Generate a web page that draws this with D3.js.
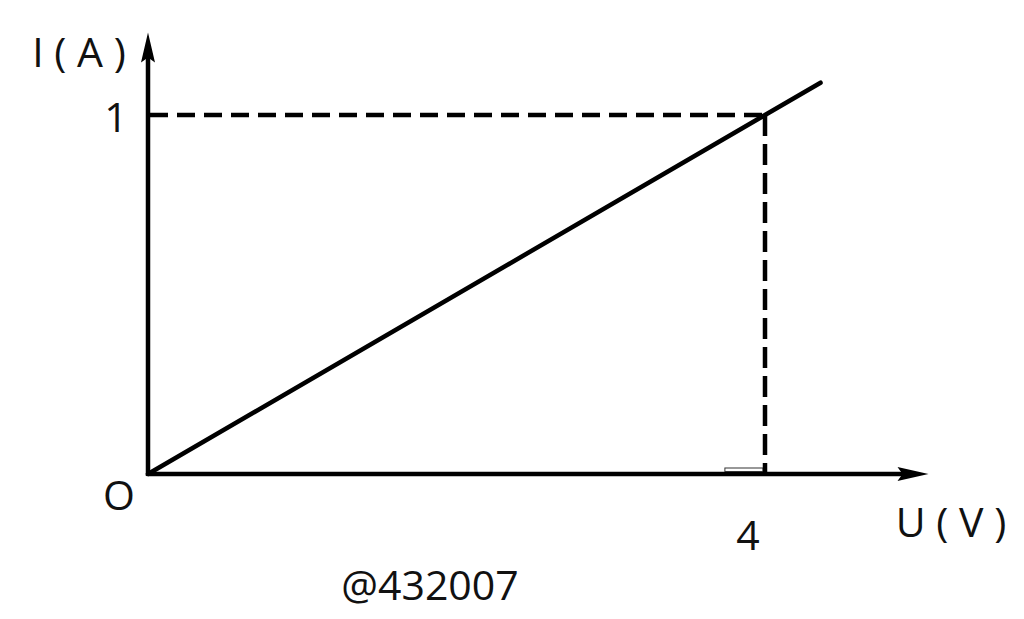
<!DOCTYPE html>
<html>
<head>
<meta charset="utf-8">
<script src="https://cdn.jsdelivr.net/npm/d3@7"></script>
<style>
  html, body { margin: 0; padding: 0; background: #fff; }
  svg { display: block; }
  text { font-family: "Open Sans", "Noto Sans", sans-serif; fill: #111; }
</style>
</head>
<body>
<svg id="chart" width="1024" height="619"></svg>
<script>
// U-I graph data
const uValues = [0, 4, 4.36];
const iValues = [0, 1, 1.09];
const markU = 4, markI = 1;
const xTickLabel = "4";
const yTickLabel = "1";
const originLabel = "O";
const xAxisTitle = "U ( V )";
const yAxisTitle = "I ( A )";
const xAxisMax = 5.06;
const yAxisMax = 1.23;
const watermark = "@432007";

const svg = d3.select("#chart");
const x = d3.scaleLinear().domain([0, 4]).range([148, 765]);
const y = d3.scaleLinear().domain([0, 1]).range([474, 115]);
const sw = 4.5;

// axes
svg.append("line")
  .attr("x1", x(0)).attr("y1", y(0))
  .attr("x2", x(xAxisMax) - 20).attr("y2", y(0))
  .attr("stroke", "#000").attr("stroke-width", sw);
svg.append("line")
  .attr("x1", x(0)).attr("y1", y(0) + 2)
  .attr("x2", x(0)).attr("y2", y(yAxisMax) + 20)
  .attr("stroke", "#000").attr("stroke-width", sw);

// arrow heads
const xt = x(xAxisMax), yt = y(yAxisMax);
svg.append("path")
  .attr("d", `M${xt},${y(0)} L${xt - 31},${y(0) - 7} L${xt - 26},${y(0)} L${xt - 31},${y(0) + 7} Z`)
  .attr("fill", "#000");
svg.append("path")
  .attr("d", `M${x(0)},${yt} L${x(0) - 7},${yt + 30} L${x(0)},${yt + 25} L${x(0) + 7},${yt + 30} Z`)
  .attr("fill", "#000");

// small mark near the foot of the dashed line
svg.append("rect")
  .attr("x", x(3.74)).attr("y", y(0) - 6)
  .attr("width", x(markU) - x(3.74) - 2).attr("height", 3.5)
  .attr("fill", "#fff").attr("stroke", "#333").attr("stroke-width", 1);

// dashed guides
svg.append("line")
  .attr("x1", x(0) + 2).attr("y1", y(markI))
  .attr("x2", x(markU)).attr("y2", y(markI))
  .attr("stroke", "#000").attr("stroke-width", sw)
  .attr("stroke-dasharray", "18,9");
svg.append("line")
  .attr("x1", x(markU)).attr("y1", y(markI))
  .attr("x2", x(markU)).attr("y2", y(0))
  .attr("stroke", "#000").attr("stroke-width", sw)
  .attr("stroke-dasharray", "21,8");

// I-U line
const pts = uValues.map((u, k) => [u, iValues[k]]);
svg.append("path")
  .datum(pts)
  .attr("d", d3.line().x(d => x(d[0])).y(d => y(d[1])))
  .attr("fill", "none").attr("stroke", "#000").attr("stroke-width", sw)
  .attr("stroke-linecap", "round");

// labels
const fs = 41;
svg.append("text").attr("x", x(0) - 29).attr("y", y(0) + 36)
  .attr("text-anchor", "middle").attr("font-size", fs).text(originLabel);
svg.append("text").attr("x", x(0) - 32).attr("y", y(markI) + 17)
  .attr("text-anchor", "middle").attr("font-size", fs).text(yTickLabel);
svg.append("text").attr("x", x(markU) - 17).attr("y", 550)
  .attr("text-anchor", "middle").attr("font-size", fs).text(xTickLabel);
svg.append("text").attr("x", 79).attr("y", 67)
  .attr("text-anchor", "middle").attr("font-size", fs).text(yAxisTitle);
svg.append("text").attr("x", 951).attr("y", 537)
  .attr("text-anchor", "middle").attr("font-size", fs).text(xAxisTitle);
svg.append("text").attr("x", 430).attr("y", 600)
  .attr("text-anchor", "middle").attr("font-size", fs).text(watermark);
</script>
</body>
</html>
